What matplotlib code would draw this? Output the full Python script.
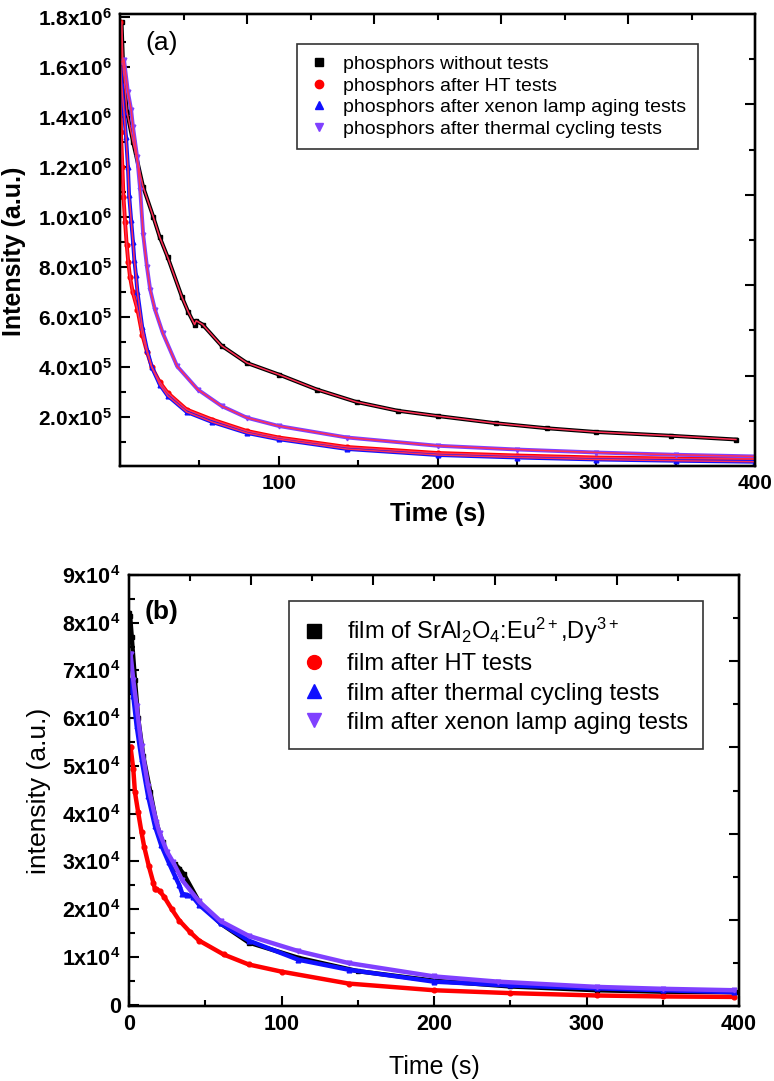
import matplotlib
matplotlib.use("Agg")
import matplotlib.pyplot as plt
from matplotlib.lines import Line2D

plt.rcParams['font.family'] = ['Liberation Sans', 'DejaVu Sans']
plt.rcParams['mathtext.fontset'] = 'custom'
plt.rcParams['mathtext.rm'] = 'Liberation Sans'
plt.rcParams['mathtext.it'] = 'Liberation Sans:italic'
plt.rcParams['mathtext.bf'] = 'Liberation Sans:bold'

# ---------------- Panel (a) data (Intensity in units of 1e5) ----------------
a_t_black = [1, 2, 4.4, 8.2, 14.6, 21, 25, 30, 39, 43, 47, 48, 52, 64, 80, 100, 124, 149, 175, 200, 237, 269, 300, 347, 388]
a_I_black = [17.8, 16.0, 14.2, 13.0, 11.2, 10.0, 9.2, 8.4, 6.8, 6.2, 5.7, 5.85, 5.7, 4.85, 4.16, 3.7, 3.1, 2.6, 2.25, 2.04, 1.75, 1.55, 1.40, 1.25, 1.10]

a_t_red = [0.3, 0.6, 1.5, 2.2, 3.2, 4.2, 5.2, 6.3, 8, 11, 14, 17, 20, 25, 30, 42, 58, 80, 100, 143, 200, 250, 300, 350, 400]
a_I_red = [17.8, 13.4, 12.0, 10.8, 9.8, 8.9, 8.2, 7.6, 7.0, 6.3, 5.3, 4.6, 4.0, 3.4, 2.97, 2.3, 1.9, 1.44, 1.18, 0.80, 0.56, 0.46, 0.38, 0.34, 0.32]

a_t_blue = [0.3, 1, 2.5, 3.8, 5, 5.7, 7, 8.2, 9, 10, 11, 14, 17, 20, 25, 30, 42, 58, 80, 100, 143, 200, 250, 300, 350, 400]
a_I_blue = [16.0, 15.3, 14.2, 13.2, 12.0, 10.9, 9.9, 9.0, 8.3, 7.7, 7.0, 5.6, 4.7, 4.0, 3.3, 2.85, 2.2, 1.8, 1.36, 1.11, 0.72, 0.48, 0.38, 0.30, 0.25, 0.21]

a_t_purple = [1, 2.5, 5, 7, 8.2, 10.8, 12.7, 14.6, 17, 19, 22, 27, 36, 49, 64, 80, 100, 143, 200, 250, 300, 350, 402]
a_I_purple = [16.2, 16.3, 15.0, 14.3, 13.6, 12.4, 11.1, 9.3, 8.0, 7.1, 6.3, 5.35, 4.03, 3.1, 2.44, 1.97, 1.64, 1.18, 0.85, 0.70, 0.58, 0.49, 0.42]

a_labels = ['phosphors without tests', 'phosphors after HT tests',
            'phosphors after xenon lamp aging tests', 'phosphors after thermal cycling tests']
a_yticks = [2e5, 4e5, 6e5, 8e5, 1.0e6, 1.2e6, 1.4e6, 1.6e6, 1.8e6]
a_yticklabels = ['2.0x10$^\\mathbf{5}$', '4.0x10$^\\mathbf{5}$', '6.0x10$^\\mathbf{5}$',
                 '8.0x10$^\\mathbf{5}$', '1.0x10$^\\mathbf{6}$', '1.2x10$^\\mathbf{6}$',
                 '1.4x10$^\\mathbf{6}$', '1.6x10$^\\mathbf{6}$', '1.8x10$^\\mathbf{6}$']
a_xticks = [100, 200, 300, 400]

# ---------------- Panel (b) data (intensity in units of 1e4) ----------------
b_t_black = [0, 0.7, 1.8, 3.9, 6, 9.4, 14, 18, 22, 26, 29, 30, 33, 36, 46, 60, 78.5, 111, 150, 200, 250, 307, 350, 399]
b_I_black = [8.2, 8.15, 7.7, 6.8, 6.0, 5.2, 4.45, 3.8, 3.4, 3.05, 2.85, 2.95, 2.85, 2.73, 2.15, 1.7, 1.3, 0.98, 0.70, 0.50, 0.38, 0.30, 0.27, 0.26]

b_t_red = [1, 2.8, 3.9, 6, 8.2, 10, 13, 16, 17, 18, 20, 23, 28, 33, 40, 46, 62, 78.5, 100, 144, 200, 250, 307, 350, 397]
b_I_red = [5.4, 4.94, 4.45, 4.03, 3.61, 3.3, 2.9, 2.55, 2.42, 2.42, 2.38, 2.26, 2.0, 1.76, 1.52, 1.34, 1.05, 0.84, 0.69, 0.44, 0.30, 0.24, 0.19, 0.17, 0.16]

b_t_blue = [0, 0.5, 2.8, 5, 8.2, 12.5, 17, 21, 26, 30, 33, 35, 38, 42, 46, 60, 78.5, 111, 144, 200, 250, 307, 350, 397]
b_I_blue = [6.6, 6.8, 6.47, 5.84, 5.15, 4.37, 3.74, 3.35, 2.98, 2.7, 2.5, 2.32, 2.3, 2.25, 2.09, 1.7, 1.34, 0.94, 0.73, 0.48, 0.40, 0.34, 0.30, 0.26]

b_t_purple = [1, 2.8, 5, 8.2, 12.5, 18, 20, 25, 29, 35, 46, 60, 78.5, 111, 144, 200, 242, 307, 350, 397]
b_I_purple = [7.35, 6.8, 6.26, 5.42, 4.58, 3.82, 3.6, 3.2, 2.98, 2.6, 2.16, 1.75, 1.44, 1.12, 0.87, 0.59, 0.48, 0.37, 0.33, 0.30]

b_labels = ['film of SrAl$_2$O$_4$:Eu$^{2+}$,Dy$^{3+}$', 'film after HT tests',
            'film after thermal cycling tests', 'film after xenon lamp aging tests']
b_yticks = [0, 1e4, 2e4, 3e4, 4e4, 5e4, 6e4, 7e4, 8e4, 9e4]
b_yticklabels = ['0'] + ['%dx10$^\\mathbf{4}$' % k for k in range(1, 10)]
b_xticks = [0, 100, 200, 300, 400]

BLACK, RED, BLUE, PURPLE = '#000000', '#ff0000', '#1010ff', '#8040ff'
FIT = '#ff2f55'

fig = plt.figure(figsize=(7.74, 10.81), dpi=100)

def style_axes(ax, labelsize):
    for s in ax.spines.values():
        s.set_linewidth(1.6)
    ax.tick_params(which='major', direction='in', length=7.5, width=1.5,
                   labelsize=labelsize, pad=6)
    ax.tick_params(which='minor', direction='in', length=4, width=1.5)
    for lab in ax.get_xticklabels() + ax.get_yticklabels():
        lab.set_fontweight('bold')
    # independent top / right tick marks
    axt = ax.twiny()
    axt.set_xlim(0, 10)
    axt.set_xticks([2, 4, 6, 8])
    axt.set_xticks([1, 3, 5, 7, 9], minor=True)
    axt.tick_params(which='major', direction='in', length=7.5, width=1.5, labeltop=False)
    axt.tick_params(which='minor', direction='in', length=4, width=1.5)
    axr = ax.twinx()
    axr.set_ylim(0, 10)
    axr.set_yticks([2, 4, 6, 8])
    axr.set_yticks([1, 3, 5, 7, 9], minor=True)
    axr.tick_params(which='major', direction='in', length=7.5, width=1.5, labelright=False)
    axr.tick_params(which='minor', direction='in', length=4, width=1.5)
    for a in (axt, axr):
        for s in a.spines.values():
            s.set_linewidth(1.6)

# ---------------- Panel (a) ----------------
axa = fig.add_axes([120/774, 1-466/1081, 635/774, 452/1081])
series_a = [(a_t_black, a_I_black, BLACK, 's'), (a_t_red, a_I_red, RED, 'o'),
            (a_t_blue, a_I_blue, BLUE, '^'), (a_t_purple, a_I_purple, PURPLE, 'v')]
for t, I, c, m in series_a:
    y = [v * 1e5 for v in I]
    axa.plot(t, y, color=c, lw=2.8, marker=m, ms=3.4, ls='-', zorder=2)
for t, I, c, m in series_a:
    y = [v * 1e5 for v in I]
    axa.plot(t, y, color=FIT, lw=1.1, zorder=3)
axa.set_xlim(0, 400)
axa.set_ylim(4e3, 1.812e6)
axa.set_xticks(a_xticks)
axa.set_xticks([50, 150, 250, 350], minor=True)
axa.set_yticks(a_yticks, a_yticklabels)
axa.set_yticks([1e5, 3e5, 5e5, 7e5, 9e5, 1.1e6, 1.3e6, 1.5e6, 1.7e6], minor=True)
axa.set_xlabel('Time (s)', fontsize=18, fontweight='bold', labelpad=6)
axa.set_ylabel('Intensity (a.u.)', fontsize=18, fontweight='bold')
axa.yaxis.set_label_coords(-0.148, 0.475)
axa.text(0.065, 0.935, '(a)', transform=axa.transAxes, fontsize=19, ha='center', va='center')
handles_a = [Line2D([], [], ls='none', marker=m, color=c, ms=6) for _, _, c, m in series_a]
lega = axa.legend(handles_a, a_labels, loc='upper left', bbox_to_anchor=(0.279, 0.934),
                  fontsize=14, frameon=True, fancybox=False, edgecolor='black',
                  handlelength=1.0, handletextpad=0.75, labelspacing=0.2, borderpad=0.6,
                  borderaxespad=0)
lega.get_frame().set_linewidth(1.2)
style_axes(axa, 15)

# ---------------- Panel (b) ----------------
axb = fig.add_axes([129/774, 1-1006/1081, 610/774, 431/1081])
series_b = [(b_t_black, b_I_black, BLACK, 's'), (b_t_red, b_I_red, RED, 'o'),
            (b_t_blue, b_I_blue, BLUE, '^'), (b_t_purple, b_I_purple, PURPLE, 'v')]
for t, I, c, m in series_b:
    y = [v * 1e4 for v in I]
    axb.plot(t, y, color=c, lw=3.2, marker=m, ms=3.4, zorder=2)
axb.set_xlim(0, 400)
axb.set_ylim(-300, 9e4)
axb.set_xticks(b_xticks)
axb.set_xticks([50, 150, 250, 350], minor=True)
axb.set_yticks(b_yticks, b_yticklabels)
axb.set_yticks([5e3 + 1e4 * k for k in range(9)], minor=True)
axb.set_xlabel('Time (s)', fontsize=18, labelpad=14)
axb.set_ylabel('intensity (a.u.)', fontsize=19, labelpad=8)
axb.text(0.054, 0.915, '(b)', transform=axb.transAxes, fontsize=19, fontweight='bold',
         ha='center', va='center')
handles_b = [Line2D([], [], ls='none', marker=m, color=c, ms=10) for _, _, c, m in series_b]
legb = axb.legend(handles_b, b_labels, loc='upper left', bbox_to_anchor=(0.262, 0.940),
                  fontsize=17, frameon=True, fancybox=False, edgecolor='black',
                  handlelength=0.8, handletextpad=1.0, labelspacing=0.3, borderpad=0.65,
                  borderaxespad=0)
legb.get_frame().set_linewidth(1.2)
style_axes(axb, 15.5)

fig.savefig('out.png', dpi=100)
